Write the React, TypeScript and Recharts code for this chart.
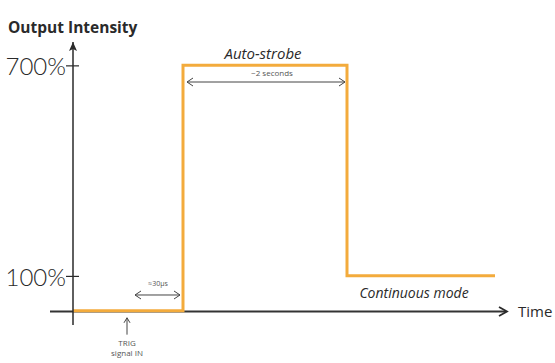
import React from 'react'
import {
  ComposedChart,
  Line,
  XAxis,
  YAxis,
  ReferenceLine,
  ReferenceDot,
} from 'recharts'

// time in arbitrary units (trigger at 54, strobe from 110 to 274)
const times = [0, 110, 110, 274, 274, 422]
const intensity = [2, 2, 702, 702, 102, 102]
const yTicks = [100, 700]

const data = times.map((t, i) => ({ t, v: intensity[i] }))

const ORANGE = '#f3ab3c'
const INK = '#2a2a2a'
const FONT = '"Open Sans", "DejaVu Sans", sans-serif'

function YTick(props: any) {
  const { x, y, payload } = props
  return (
    <g>
      <line x1={x - 7} x2={x + 6} y1={y} y2={y} stroke={INK} strokeWidth={1.2} />
      <text
        x={x - 7}
        y={y}
        textAnchor='end'
        dominantBaseline='central'
        fontSize={24}
        fontWeight={300}
        fontFamily='Lato, sans-serif'
        fill={INK}
      >
        {payload.value}%
      </text>
    </g>
  )
}

const label =
  (text: string, opts: { size?: number; anchor?: string; italic?: boolean; bold?: boolean; color?: string } = {}) =>
  (p: any) => (
    <text
      x={p.cx}
      y={p.cy}
      textAnchor={opts.anchor || 'middle'}
      dominantBaseline='central'
      fontSize={opts.size || 14}
      fontStyle={opts.italic ? 'italic' : 'normal'}
      fontWeight={opts.bold ? 700 : 400}
      fontFamily={FONT}
      fill={opts.color || INK}
    >
      {text}
    </text>
  )

const upArrow = (p: any) => (
  <path
    d={`M${p.cx - 4},${p.cy + 9} L${p.cx},${p.cy} L${p.cx + 4},${p.cy + 9} L${p.cx},${p.cy + 7} Z`}
    fill={INK}
  />
)

const rightArrow = (p: any) => (
  <path
    d={`M${p.cx - 8},${p.cy - 4.5} L${p.cx},${p.cy} L${p.cx - 8},${p.cy + 4.5}`}
    fill='none'
    stroke={INK}
    strokeWidth={1.8}
  />
)

// line with a chevron at each end
const doubleArrow = (p: any) => {
  const { x1, x2, y1 } = p
  const a = Math.min(x1, x2)
  const b = Math.max(x1, x2)
  return (
    <g stroke='#444' strokeWidth={1} fill='none'>
      <line x1={a} x2={b} y1={y1} y2={y1} />
      <path d={`M${a + 6},${y1 - 4} L${a},${y1} L${a + 6},${y1 + 4}`} />
      <path d={`M${b - 6},${y1 - 4} L${b},${y1} L${b - 6},${y1 + 4}`} />
    </g>
  )
}

const upPointer = (p: any) => {
  const { x1, y1, y2 } = p
  const top = Math.min(y1, y2)
  const bot = Math.max(y1, y2)
  return (
    <g stroke='#444' strokeWidth={1} fill='none'>
      <line x1={x1} x2={x1} y1={top} y2={bot} />
      <path d={`M${x1 - 3},${top + 5} L${x1},${top} L${x1 + 3},${top + 5}`} />
    </g>
  )
}

export default function App() {
  return (
    <div style={{ position: 'absolute', left: 0, top: 0, background: '#fff' }}>
      <ComposedChart
        width={555}
        height={363}
        data={data}
        margin={{ top: 42, right: 45, bottom: 38, left: 0 }}
      >
        <XAxis type='number' dataKey='t' domain={[0, 437]} allowDataOverflow hide />
        <YAxis
          type='number'
          domain={[-38.5, 768]}
          allowDataOverflow
          ticks={yTicks}
          interval={0}
          width={73}
          tickSize={0}
          tickMargin={0}
          tickLine={false}
          axisLine={{ stroke: INK, strokeWidth: 1.5 }}
          tick={<YTick />}
        />
        <ReferenceLine
          segment={[{ x: -23, y: 0 }, { x: 433, y: 0 }]}
          stroke='#333'
          strokeWidth={2}
          ifOverflow='visible'
        />
        <ReferenceDot x={0} y={768} ifOverflow='visible' shape={upArrow} />
        <ReferenceDot x={434} y={0} ifOverflow='visible' shape={rightArrow} />

        <Line
          dataKey='v'
          type='linear'
          stroke={ORANGE}
          strokeWidth={3}
          dot={false}
          isAnimationActive={false}
        />

        <ReferenceLine
          segment={[{ x: 114, y: 654 }, { x: 272, y: 654 }]}
          ifOverflow='visible'
          shape={doubleArrow}
        />
        <ReferenceLine
          segment={[{ x: 62, y: 47 }, { x: 107, y: 47 }]}
          ifOverflow='visible'
          shape={doubleArrow}
        />
        <ReferenceLine
          segment={[{ x: 54, y: -18 }, { x: 54, y: -66 }]}
          ifOverflow='visible'
          shape={upPointer}
        />

        <ReferenceDot x={-65} y={811} ifOverflow='visible' shape={label('Output Intensity', { size: 15.5, anchor: 'start', bold: true })} />
        <ReferenceDot x={445} y={1} ifOverflow='visible' shape={label('Time', { size: 15, anchor: 'start' })} />
        <ReferenceDot x={190} y={737} ifOverflow='visible' shape={label('Auto-strobe', { size: 15, italic: true })} />
        <ReferenceDot x={199} y={680} ifOverflow='visible' shape={label('~2 seconds', { size: 8, color: '#555' })} />
        <ReferenceDot x={85} y={81} ifOverflow='visible' shape={label('≈30µs', { size: 7, color: '#555' })} />
        <ReferenceDot x={341} y={53} ifOverflow='visible' shape={label('Continuous mode', { size: 14, italic: true })} />
        <ReferenceDot x={54} y={-87} ifOverflow='visible' shape={label('TRIG', { size: 8, color: '#555' })} />
        <ReferenceDot x={54} y={-118} ifOverflow='visible' shape={label('signal IN', { size: 8, color: '#555' })} />
      </ComposedChart>
    </div>
  )
}
